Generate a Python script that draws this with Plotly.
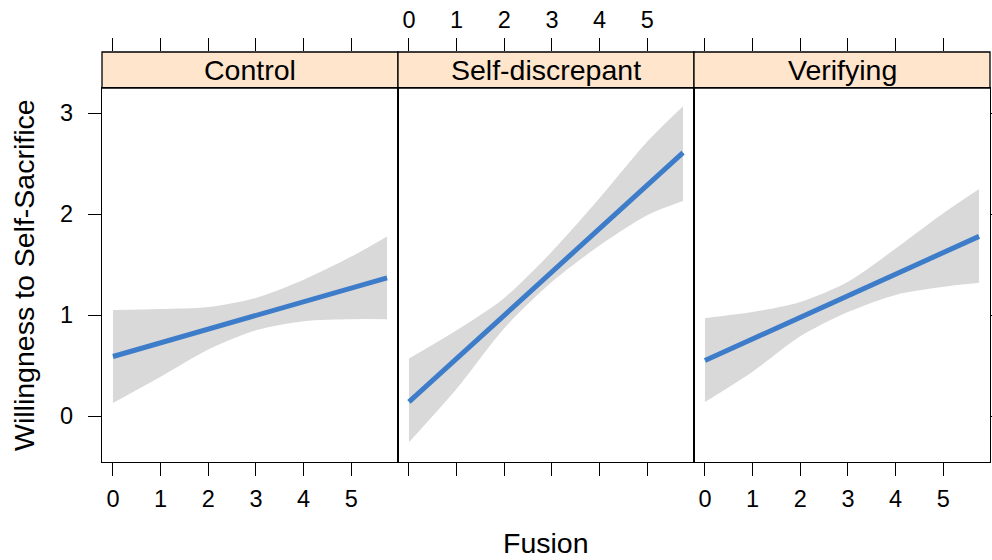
import plotly.graph_objects as go

# ---------------- data ----------------
panels = ["Control", "Self-discrepant", "Verifying"]
fusion_line = [0, 5.75]
line_values = {
    "Control": [0.59, 1.37],
    "Self-discrepant": [0.14, 2.61],
    "Verifying": [0.55, 1.78],
}
band_x = [0, 1, 2, 3, 4, 5, 5.75]
band_upper = {
    "Control": [1.05, 1.06, 1.08, 1.17, 1.35, 1.58, 1.78],
    "Self-discrepant": [0.57, 0.85, 1.17, 1.63, 2.16, 2.72, 3.07],
    "Verifying": [0.97, 1.03, 1.13, 1.33, 1.66, 2.01, 2.25],
}
band_lower = {
    "Control": [0.13, 0.39, 0.66, 0.85, 0.94, 0.96, 0.96],
    "Self-discrepant": [-0.26, 0.27, 0.87, 1.33, 1.69, 1.99, 2.13],
    "Verifying": [0.14, 0.44, 0.79, 1.03, 1.20, 1.28, 1.32],
}
x_ticks = [0, 1, 2, 3, 4, 5]
y_ticks = [0, 1, 2, 3]
x_title = "Fusion"
y_title = "Willingness to Self-Sacrifice"

# ---------------- styling ----------------
W, H = 992, 560
FONT = "Liberation Sans, Arial, sans-serif"
LINE_COLOR = "#3D7CC9"
BAND_COLOR = "#D9D9D9"
STRIP_COLOR = "#FFE5CC"
XR = [-0.23, 5.98]
YR = [-0.455, 3.25]
TICK_SIZE = 23.5
TEXT_SIZE = 28.5
LW = 1.3

px_left = [102, 398, 694]
px_right = [398, 694, 990]
panel_top, panel_bottom = 88, 462
strip_top = 52


def fx(p):
    return p / W


def fy(p):
    return 1 - p / H


fig = go.Figure()
layout = dict(
    width=W, height=H, autosize=False,
    margin=dict(l=0, r=0, t=0, b=0, pad=0, autoexpand=False),
    paper_bgcolor="white", plot_bgcolor="white",
    showlegend=False,
    font=dict(family=FONT, color="black"),
)

for i, name in enumerate(panels):
    n = i + 1
    xa = "x" if n == 1 else f"x{n}"
    ya = "y" if n == 1 else f"y{n}"
    # band
    fig.add_trace(go.Scatter(
        x=band_x, y=band_lower[name], xaxis=xa, yaxis=ya, mode="lines",
        line=dict(width=0, shape="spline", smoothing=0.8, color=BAND_COLOR),
        hoverinfo="skip"))
    fig.add_trace(go.Scatter(
        x=band_x, y=band_upper[name], xaxis=xa, yaxis=ya, mode="lines",
        line=dict(width=0, shape="spline", smoothing=0.8, color=BAND_COLOR),
        fill="tonexty", fillcolor=BAND_COLOR, hoverinfo="skip"))
    # fitted line
    fig.add_trace(go.Scatter(
        x=fusion_line, y=line_values[name], xaxis=xa, yaxis=ya, mode="lines",
        line=dict(width=5, color=LINE_COLOR)))

    dom = [fx(px_left[i]), fx(px_right[i])]
    layout["xaxis" if n == 1 else f"xaxis{n}"] = dict(
        domain=dom, anchor=ya, range=XR, tickvals=x_ticks, automargin=False,
        ticks="outside", ticklen=13, tickwidth=1.3, tickcolor="black",
        showticklabels=(n != 2), ticklabelstandoff=3,
        tickfont=dict(size=TICK_SIZE, family=FONT, color="black"),
        showline=True, linecolor="black", linewidth=LW, mirror=True,
        showgrid=False, zeroline=False)
    ydict = dict(
        domain=[fy(panel_bottom), fy(panel_top)], anchor=xa, range=YR,
        tickvals=y_ticks, showline=True, linecolor="black", linewidth=LW,
        mirror=True, showgrid=False, zeroline=False, automargin=False,
        tickfont=dict(size=TICK_SIZE, family=FONT, color="black"))
    if n == 1:
        ydict.update(ticks="outside", ticklen=13, tickwidth=1.3,
                     tickcolor="black", showticklabels=True,
                     ticklabelstandoff=10)
    elif n == 2:
        ydict.update(ticks="", showticklabels=False)
    else:
        ydict.update(side="right", ticks="outside", ticklen=2, tickwidth=1.3,
                     tickcolor="black", showticklabels=False)
    layout["yaxis" if n == 1 else f"yaxis{n}"] = ydict

    # strip axes (top ticks)
    sn = n + 3
    fig.add_trace(go.Scatter(x=[None], y=[None], xaxis=f"x{sn}", yaxis="y4",
                             mode="lines", hoverinfo="skip"))
    layout[f"xaxis{sn}"] = dict(
        domain=dom, anchor="y4", side="top", range=XR, tickvals=x_ticks,
        ticks="outside", ticklen=13, tickwidth=1.3, tickcolor="black",
        showticklabels=(n == 2), ticklabelstandoff=1, automargin=False,
        tickfont=dict(size=TICK_SIZE, family=FONT, color="black"),
        showline=False, showgrid=False, zeroline=False)

    # strip background
    fig.add_shape(type="rect", xref="paper", yref="paper",
                  x0=dom[0], x1=dom[1], y0=fy(panel_top), y1=fy(strip_top),
                  fillcolor=STRIP_COLOR, line=dict(color="black", width=LW),
                  layer="below")
    fig.add_annotation(text=name, xref="paper", yref="paper",
                       x=(dom[0] + dom[1]) / 2, y=fy((panel_top + strip_top) / 2),
                       showarrow=False, xanchor="center", yanchor="middle",
                       font=dict(size=TEXT_SIZE, family=FONT, color="black"))

layout["yaxis4"] = dict(domain=[fy(panel_top), fy(strip_top)], anchor="x4",
                        range=[0, 1], visible=False, automargin=False)

fig.add_annotation(text=x_title, xref="paper", yref="paper",
                   x=fx((px_left[0] + px_right[2]) / 2), y=fy(543),
                   showarrow=False, xanchor="center", yanchor="middle",
                   font=dict(size=TEXT_SIZE, family=FONT, color="black"))
fig.add_annotation(text=y_title, xref="paper", yref="paper",
                   x=fx(24), y=fy((panel_top + panel_bottom) / 2),
                   textangle=-90, showarrow=False, xanchor="center",
                   yanchor="middle",
                   font=dict(size=TEXT_SIZE, family=FONT, color="black"))

fig.update_layout(**layout)
fig.write_html(
    "out.html",
    config={"displayModeBar": False, "responsive": False},
    post_script="document.body.style.margin='0px';"
                "document.body.style.overflow='hidden';",
)
